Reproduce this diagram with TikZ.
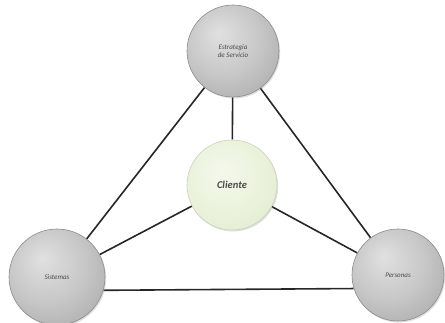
\documentclass[tikz,border=0pt]{standalone}
\usepackage{fontspec}
\setmainfont{Carlito}
\usetikzlibrary{shadows,backgrounds}
\definecolor{gcen}{HTML}{F4F8EC}
\definecolor{gmid}{HTML}{E8F1D8}
\definecolor{gout}{HTML}{CFE0B4}
\definecolor{txt}{HTML}{4A4A4A}
\pgfdeclareradialshading{graysph}{\pgfpoint{-8bp}{10bp}}{color(0bp)=(black!12); color(20bp)=(black!22); color(45bp)=(black!38); color(60bp)=(black!50)}
\pgfdeclareradialshading{greensph}{\pgfpoint{-6bp}{8bp}}{color(0bp)=(gcen); color(25bp)=(gmid); color(60bp)=(gout)}
\tikzset{
  ball/.style={circle, minimum size=92pt, inner sep=0pt, shading=graysph, draw=black!45, line width=0.6pt,
    drop shadow={opacity=0.25, shadow xshift=1.2pt, shadow yshift=-1.5pt},
    font=\itshape\fontsize{7}{8}\selectfont, text=txt, align=center},
  greenball/.style={ball, shading=greensph, draw=gout!80!black!60, font=\bfseries\itshape\fontsize{10.5}{12}\selectfont},
  link/.style={line width=1.6pt, draw=black!85}
}
\begin{document}
\begin{tikzpicture}[x=1pt,y=-1pt]
\useasboundingbox (0,0) rectangle (445,323);
\node[ball] (est) at (233,51) {Estrategia\\de Servicio};
\node[greenball, minimum size=90pt] (cli) at (232,185) {Cliente};
\node[ball, minimum size=96pt] (sis) at (57,277) {Sistemas};
\node[ball] (per) at (398,275) {Personas};
\begin{pgfonlayer}{background}
\draw[link] (est) -- (sis);
\draw[link] (est) -- (per);
\draw[link] (est) -- (cli);
\draw[link] (cli) -- (sis);
\draw[link] (cli) -- (per);
\draw[link] (sis.-16) -- (per.197);
\end{pgfonlayer}
\end{tikzpicture}
\end{document}
